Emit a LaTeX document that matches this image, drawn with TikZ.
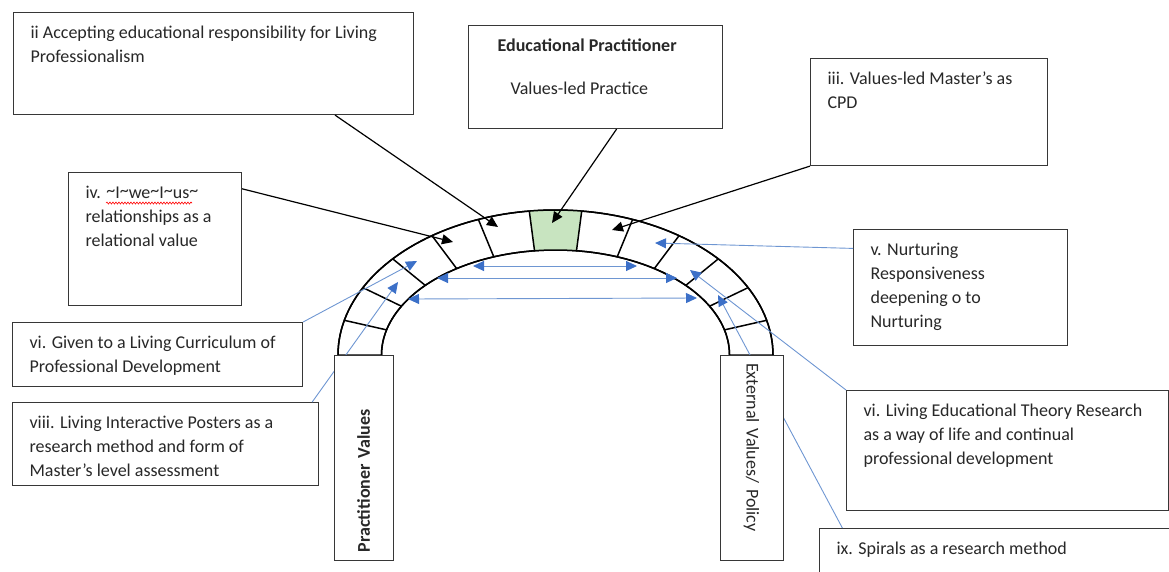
\documentclass[tikz,border=0pt]{standalone}
\usepackage{fontspec}
\setmainfont{Carlito}
\usetikzlibrary{arrows.meta}
\usetikzlibrary{decorations.pathmorphing}

\definecolor{boxgrey}{RGB}{55,55,55}
\definecolor{txtgrey}{RGB}{40,40,40}
\definecolor{linkblue}{RGB}{110,150,210}
\definecolor{headblue}{RGB}{60,112,200}
\definecolor{keygreen}{RGB}{200,228,192}

% top-aligned text block of a given width and height
\newcommand{\cardtext}[3]{\parbox[t][#2][t]{#1}{\raggedright\rule{0pt}{26pt}#3}}
\newcommand{\tld}{\raisebox{2pt}{\textasciitilde}}

\begin{document}
\begin{tikzpicture}[x=1pt,y=-1pt,
        card/.style={draw=boxgrey,line width=1.1pt,fill=white,anchor=north west,
            inner xsep=17pt,inner ysep=0pt,text=txtgrey,font=\fontsize{18}{24}\selectfont},
        pillar/.style={draw=boxgrey,line width=1pt,fill=white,minimum width=205pt,
            inner xsep=8pt,text width=189pt,align=left,text=txtgrey,font=\fontsize{18}{24}\selectfont},
        archline/.style={line width=1.5pt,black},
        blackarrow/.style={-{Triangle[length=11pt,width=10pt]},line width=1.2pt,black},
        bluearrow/.style={-{Triangle[length=11pt,width=10pt,color=headblue]},line width=0.9pt,linkblue},
        bluespan/.style={{Triangle[length=11pt,width=10pt,color=headblue]}-{Triangle[length=11pt,width=10pt,color=headblue]},line width=0.9pt,linkblue}]

    \useasboundingbox (0,0) rectangle (1169,571);
    \clip (0,0) rectangle (1169,571);

    % text boxes
    \node[card] (accept) at (13,12) {\cardtext{366pt}{102pt}{ii Accepting educational responsibility for Living\\Professionalism}};
    \node[card] (practitioner) at (468,25) {\cardtext{220pt}{103pt}{\hspace*{12pt}\textbf{Educational Practitioner}\\[19pt]\hspace*{25pt}Values-led Practice}};
    \node[card] (masters) at (810,58) {\cardtext{203pt}{107pt}{iii. Values-led Master’s as\\CPD}};
    \node[card] (relation) at (68,172) {\cardtext{139pt}{133pt}{iv. \tld I\tld we\tld I\tld us\tld\\relationships as a\\relational value}};
    \node[card] (curriculum) at (12,322) {\cardtext{256pt}{64pt}{vi. Given to a Living Curriculum of\\Professional Development}};
    \node[card] (posters) at (12,402) {\cardtext{272pt}{83pt}{viii. Living Interactive Posters as a\\research method and form of\\Master’s level assessment}};
    \node[card] (nurture) at (853,229) {\cardtext{180pt}{116pt}{v. Nurturing\\Responsiveness\\deepening o to\\Nurturing}};
    \node[card] (theory) at (846,390) {\cardtext{288pt}{120pt}{vi. Living Educational Theory Research\\as a way of life and continual\\professional development}};
    \node[card] (spirals) at (819,528) {\cardtext{326pt}{60pt}{ix. Spirals as a research method}};

    % spell-check mark
    \draw[red,line width=0.6pt,decorate,decoration={snake,amplitude=1pt,segment length=3pt}] (106,203) -- (192,203);

    % the arch
    \draw[archline,fill=white] plot[domain=180:360,samples=91] ({555.5+217.5*cos(\x)},{355+145*sin(\x)})
        -- plot[domain=360:180,samples=91] ({555.5+174*cos(\x)},{355+105*sin(\x)}) -- cycle;
    \fill[keygreen] plot[domain=263.077:276.923,samples=9] ({555.5+217.5*cos(\x)},{355+145*sin(\x)})
        -- plot[domain=276.923:263.077,samples=9] ({555.5+174*cos(\x)},{355+105*sin(\x)}) -- cycle;
    \draw[archline] plot[domain=180:360,samples=91] ({555.5+217.5*cos(\x)},{355+145*sin(\x)});
    \draw[archline] plot[domain=180:360,samples=91] ({555.5+174*cos(\x)},{355+105*sin(\x)});
    \foreach \k [evaluate=\k as \t using 180+\k*180/13] in {1,...,12}
        \draw[archline] ({555.5+217.5*cos(\t)},{355+145*sin(\t)}) -- ({555.5+174*cos(\t)},{355+105*sin(\t)});

    % arrow ends in the arch
    \coordinate (tipaccept) at (498,227);
    \coordinate (tiprelation) at (453,242);
    \coordinate (tipkey) at (552,223);
    \coordinate (tipmasters) at (612,230);
    \coordinate (tipcurric) at (417,261);
    \coordinate (tipposters) at (398,282);
    \coordinate (tipnurture) at (655,243);
    \coordinate (tiptheory) at (690,270);
    \coordinate (tipspirals) at (718,295);
    \coordinate (spanAl) at (473,266);
    \coordinate (spanAr) at (637,266);
    \coordinate (spanBl) at (437,278);
    \coordinate (spanBr) at (677,278);
    \coordinate (spanCl) at (408,299);
    \coordinate (spanCr) at (697,298);

    \begin{scope}
        \path[blackarrow] (accept.-23.55) edge (tipaccept);
        \path[blackarrow] (relation.30.27) edge (tiprelation);
        \path[blackarrow] (practitioner.-68.8) edge (tipkey);
        \path[blackarrow] (masters.south west) edge (tipmasters);

        \path[bluearrow] (curriculum.north east) edge (tipcurric);
        \path[bluearrow] (posters.16.85) edge (tipposters);
        \path[bluearrow] (nurture.160) edge (tipnurture);
        \path[bluearrow] (theory.north west) edge (tiptheory);
        \path[bluearrow] (spirals.169.63) edge (tipspirals);

        \path[bluespan] (spanAl) edge (spanAr);
        \path[bluespan] (spanBl) edge (spanBr);
        \path[bluespan] (spanCl) edge (spanCr);
    \end{scope}

    % pillars
    \node[pillar,rotate=90,minimum height=59pt] (pvalues) at (363.5,457.5) {\textbf{Practitioner Values}};
    \node[pillar,rotate=-90,minimum height=63pt] (extvalues) at (751.5,457.5) {External Values/ Policy};
\end{tikzpicture}
\end{document}
